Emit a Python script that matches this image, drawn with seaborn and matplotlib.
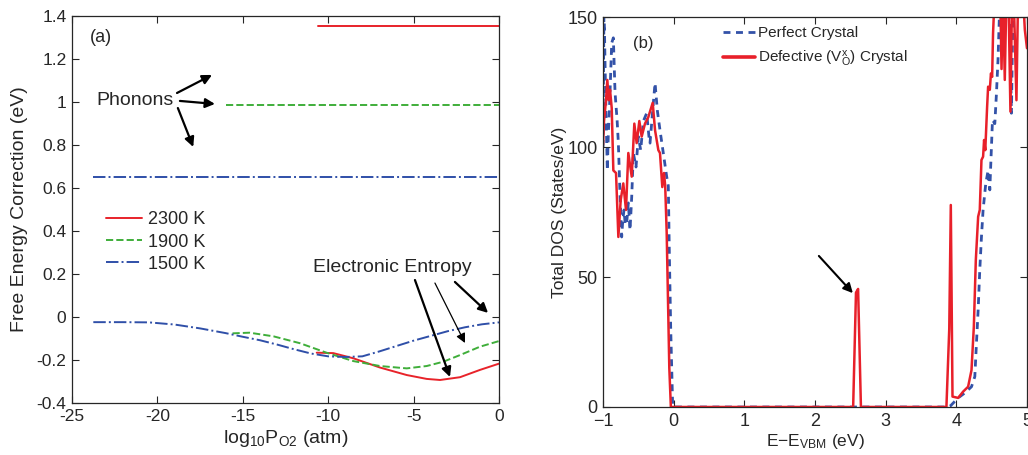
import numpy as np
import pandas as pd
import seaborn as sns
import matplotlib
matplotlib.use("Agg")
import matplotlib.pyplot as plt
from matplotlib.lines import Line2D

# ---- panel (a): free energy corrections ----
temps = ['2300 K', '1900 K', '1500 K']
colors_a = ['#e8232a', '#3fae3a', '#2f4fa8']
styles_a = ['-', '--', '-.']

# phonon contribution (flat lines): start of range and value
phonon_start = [-10.6, -16.0, -23.75]
phonon_value = [1.352, 0.988, 0.650]

# electronic entropy curves
x_2300 = [-10.67, -9.7, -8.53, -6.97, -5.4, -4.23, -3.45, -2.28, -1.11, 0.0]
y_2300 = [-0.166, -0.168, -0.192, -0.235, -0.270, -0.288, -0.293, -0.280, -0.246, -0.217]
x_1900 = [-15.6, -14.6, -13.2, -11.65, -10.1, -8.53, -6.97, -5.4, -4.23, -3.26, -2.28, -1.11, 0.0]
y_1900 = [-0.076, -0.073, -0.090, -0.122, -0.166, -0.205, -0.228, -0.239, -0.228, -0.208, -0.177, -0.138, -0.112]
x_1500 = [-23.75, -22, -20.5, -19, -17.5, -16, -15, -14, -13, -12, -11, -10, -9, -8, -7, -6, -5, -4, -3, -2, -1, 0]
y_1500 = [-0.024, -0.024, -0.025, -0.035, -0.053, -0.075, -0.092, -0.108, -0.128, -0.150, -0.170, -0.183, -0.186,
          -0.183, -0.160, -0.135, -0.110, -0.088, -0.066, -0.048, -0.034, -0.025]

xticks_a = [-25, -20, -15, -10, -5, 0]
yticks_a = [-0.4, -0.2, 0, 0.2, 0.4, 0.6, 0.8, 1, 1.2, 1.4]

# ---- panel (b): total DOS ----
x_perfect = [-1.0, -0.986, -0.97, -0.955, -0.939, -0.925, -0.91, -0.877, -0.854, -0.83, -0.80, -0.783, -0.76,
             -0.736, -0.72, -0.703, -0.685, -0.665, -0.642, -0.618, -0.594, -0.571, -0.533, -0.5, -0.467, -0.429,
             -0.382, -0.35, -0.335, -0.297, -0.264, -0.231, -0.194, -0.147, -0.099, -0.076, -0.062, -0.042,
             -0.014, 0.0, 3.88, 3.92, 3.955, 4.026, 4.12, 4.215, 4.262, 4.285, 4.309, 4.332, 4.356, 4.379,
             4.417, 4.45, 4.474, 4.49, 4.512, 4.545, 4.568, 4.59, 4.615, 4.65, 4.70, 4.75, 4.78, 4.80, 4.83,
             4.88, 4.93, 4.97, 5.0]
y_perfect = [100, 155, 130, 110, 91, 105, 114, 140, 142, 121, 110, 101.5, 82,
             65.4, 72, 75.8, 70, 70.7, 78.5, 68, 80.8, 97.7, 92.3, 104, 98.8, 110,
             113, 104, 101.5, 114, 124.6, 114, 106.5, 97.7, 88.6, 85, 60, 30,
             0, 0, 0, 0.5, 1.5, 3.5, 5.4, 7.8, 11.7, 24.6, 37.3, 52.7, 65.5, 75.8,
             86, 91, 83.5, 95, 110.4, 109, 120.6, 133.5, 155, 160, 155, 160, 113, 150, 160,
             155, 160, 150, 155]

x_defect = [-1.0, -0.986, -0.958, -0.939, -0.92, -0.901, -0.877, -0.854, -0.816, -0.783, -0.75, -0.713, -0.675,
            -0.642, -0.594, -0.557, -0.524, -0.486, -0.453, -0.406, -0.359, -0.297, -0.264, -0.217, -0.194,
            -0.161, -0.137, -0.12, -0.099, -0.062, -0.04, 2.54, 2.58, 2.61, 2.65, 3.86, 3.90, 3.922, 3.946,
            4.026, 4.096, 4.167, 4.215, 4.248, 4.276, 4.309, 4.332, 4.356, 4.379, 4.393, 4.41, 4.436, 4.45,
            4.474, 4.49, 4.507, 4.52, 4.545, 4.58, 4.62, 4.64, 4.66, 4.686, 4.71, 4.74, 4.766, 4.79, 4.82,
            4.851, 4.875, 4.9, 4.94, 4.97, 5.0]
y_defect = [100.8, 110, 118, 125.8, 118, 122, 115, 91, 90, 65.4, 79.6, 86, 75.8,
            97.7, 88.6, 109, 101.5, 110, 104, 109, 111.5, 117, 106.5, 98.8, 97.7,
            84.6, 90, 85, 67, 15, 0, 0, 44, 45.4, 0, 0, 30, 77.7, 4,
            3.5, 5.9, 7.8, 14.2, 30.9, 56.5, 73.2, 75.8, 95, 96.3, 102.7, 98.8, 115.5, 123.2,
            122, 128.3, 127, 143.8, 160, 155, 160, 130, 160, 125.8, 160, 155, 113.6, 160, 150,
            118, 160, 150, 160, 145, 138]

xticks_b = [-1, 0, 1, 2, 3, 4, 5]
yticks_b = [0, 50, 100, 150]

sns.set_style('ticks')
plt.rcParams['font.family'] = ['Liberation Sans', 'DejaVu Sans']
plt.rcParams['mathtext.default'] = 'regular'

fig = plt.figure(figsize=(10.28, 4.55), dpi=100)
ax1 = fig.add_axes([0.070, 0.1143, 0.4154, 0.8505])
ax2 = fig.add_axes([0.5866, 0.1055, 0.4124, 0.8571])

# panel (a)
curves = [(x_2300, y_2300), (x_1900, y_1900), (x_1500, y_1500)]
for i in range(3):
    sns.lineplot(x=[phonon_start[i], 0], y=[phonon_value[i]] * 2, ax=ax1, color=colors_a[i],
                 linestyle=styles_a[i], lw=1.4)
    sns.lineplot(x=curves[i][0], y=curves[i][1], ax=ax1, color=colors_a[i],
                 linestyle=styles_a[i], lw=1.4, sort=False, estimator=None)

ax1.set_xlim(-25, 0)
ax1.set_ylim(-0.4, 1.4)
ax1.set_xticks(xticks_a)
ax1.set_xticklabels(['%g' % t for t in xticks_a])
ax1.set_yticks(yticks_a)
ax1.set_yticklabels(['%g' % t for t in yticks_a])
ax1.tick_params(direction='in', top=True, right=True, labelsize=12.5, length=5, width=0.8, pad=4)
ax1.set_xlabel('log$_{10}$P$_{O2}$ (atm)', fontsize=14, labelpad=3)
ax1.set_ylabel('Free Energy Correction (eV)', fontsize=14, labelpad=6)

handles = [Line2D([], [], color=c, linestyle=s, lw=1.4) for c, s in zip(colors_a, styles_a)]
ax1.legend(handles, temps, loc='center left', bbox_to_anchor=(0.08, 0.416), frameon=False,
           fontsize=13, handlelength=2.0, handletextpad=0.3, labelspacing=0.28, borderpad=0, borderaxespad=0)

ax1.text(-23.95, 1.30, '(a)', fontsize=13, va='center', ha='left')
ax1.text(-23.55, 1.009, 'Phonons', fontsize=14, va='center', ha='left')
ax1.text(-10.9, 0.228, 'Electronic Entropy', fontsize=14, va='center', ha='left')

arrow_kw = dict(arrowstyle='-|>', color='k', shrinkA=0, shrinkB=0, mutation_scale=14)
phonon_arrows = [((-18.85, 1.042), (-16.8, 1.126)), ((-18.68, 1.005), (-16.63, 0.991)),
                 ((-18.8, 0.972), (-17.9, 0.791))]
for tail, tip in phonon_arrows:
    ax1.annotate('', xy=tip, xytext=tail, arrowprops=dict(lw=1.6, **arrow_kw))
elec_arrows = [((-4.92, 0.172), (-2.87, -0.279), 1.6), ((-3.75, 0.158), (-1.99, -0.121), 0.9),
               ((-2.58, 0.163), (-0.64, 0.019), 1.6)]
for tail, tip, w in elec_arrows:
    ax1.annotate('', xy=tip, xytext=tail, arrowprops=dict(lw=w, **arrow_kw))

# panel (b)
sns.lineplot(x=x_perfect, y=y_perfect, ax=ax2, color='#3352a8', lw=2.0, dashes=False,
             linestyle=(0, (2.5, 2)), sort=False, estimator=None)
sns.lineplot(x=x_defect, y=y_defect, ax=ax2, color='#e8202a', lw=1.8, sort=False, estimator=None)

ax2.set_xlim(-1, 5)
ax2.set_ylim(0, 150)
ax2.set_xticks(xticks_b)
ax2.set_xticklabels([('%g' % t).replace('-', '\u2212') for t in xticks_b])
ax2.set_yticks(yticks_b)
ax2.tick_params(direction='in', top=True, right=True, labelsize=13, length=5, width=0.8, pad=4)
ax2.set_xlabel('E\u2212E$_{VBM}$ (eV)', fontsize=12.5, labelpad=2)
ax2.set_ylabel('Total DOS (States/eV)', fontsize=12.5, labelpad=0)

handles_b = [Line2D([], [], color='#3352a8', lw=2.0, linestyle=(0, (2.5, 2))),
             Line2D([], [], color='#e8202a', lw=2.6)]
ax2.legend(handles_b, ['Perfect Crystal', 'Defective (V$_O^x$) Crystal'], loc='center left',
           bbox_to_anchor=(0.283, 0.922), frameon=False, fontsize=11, handlelength=2.1,
           handletextpad=0.2, labelspacing=0.6, borderpad=0, borderaxespad=0)

ax2.text(-0.58, 140, '(b)', fontsize=12, va='center', ha='left')
ax2.annotate('', xy=(2.536, 43.8), xytext=(2.055, 58.1), arrowprops=dict(lw=1.5, **arrow_kw))

for ax in (ax1, ax2):
    for sp in ax.spines.values():
        sp.set_linewidth(0.9)

fig.savefig('out.png', dpi=100)
